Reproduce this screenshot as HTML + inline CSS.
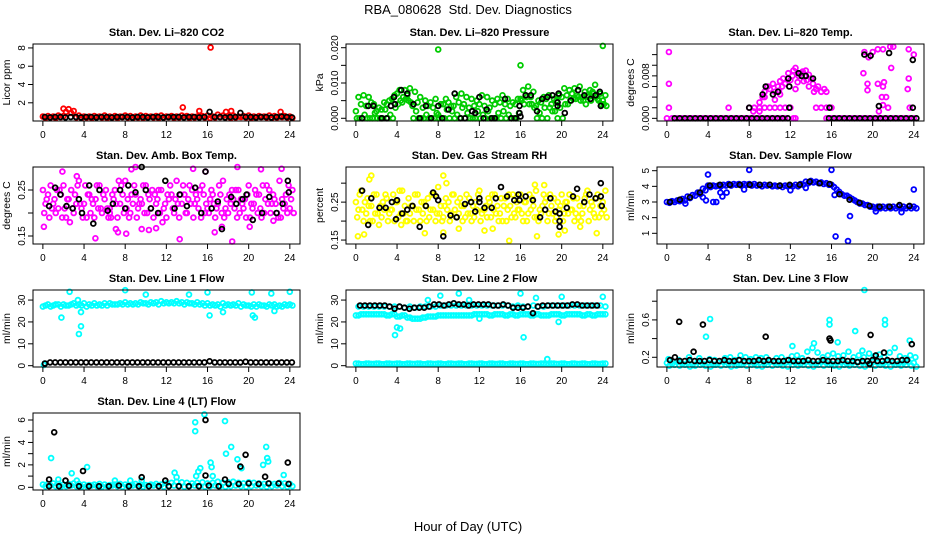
<!DOCTYPE html>
<html><head><meta charset="utf-8"><style>
body{margin:0;background:#fff;}
svg{display:block;font-family:"Liberation Sans",sans-serif;}
</style></head><body>
<svg id="fig" width="936" height="540" viewBox="0 0 936 540" xmlns="http://www.w3.org/2000/svg">
<text x="468" y="14" text-anchor="middle" font-size="13">RBA_080628&#160; Std. Dev. Diagnostics</text>
<text x="468" y="531" text-anchor="middle" font-size="13">Hour of Day (UTC)</text>
</svg>
<script>
// ---- data (hours of day, std. dev. values) ----
const xTicks=[0,4,8,12,16,20,24];
// P1 CO2
const co2A=[.5,.55,.5,.6,.55,1.3,1.1,.6,.5,.5,.55,.5,.6,.5,.55,.5,.6,.55,.5,.6,.55,.5,.55,.6,.5,.55,.5,.6,.55,.5,.5,.55,.6,.5,.7,.6,.55,.6,.5,.55,.6,.5,.55,.5,.6,.55,.5,.55,.5];
const co2B=[.35,.4,.35,.45,1.0,.9,.4,.35,.4,.35,.45,.4,.35,.4,.35,.45,.4,.35,.4,.35,.45,.4,.35,.4,.45,.35,.4,.45,.35,.4,.45,.4,.35,.4,.45,.4,.35,.4,.45,.4,.35,.4,.45,.4,.35,.4,.45,.4,.35];
const co2Out=[[2,1.35],[13.6,1.5],[15.2,1.1],[16.3,8.05],[17.8,1.0],[18.3,1.1],[23.1,1.0]];
const co2Black=[.45,.4,.45,.45,.4,.45,.45,.4,.45,.45,.4,.45,.45,.4,.45,.45,.45,.4,.45,.45,.4,.45,.45,.4,.45,.45,.45,.4,.45,.45,.4,.45,1.0,.45,.45,.4,.45,.45,.9,.45,.45,.4,.45,.45,.4,.45,.5,.45,.4];
// P2 Pressure
const presA=[.006,.0065,.006,.004,.003,.0045,.005,.0065,.008,.008,.0085,.0075,.006,.005,.0045,.0055,.004,.0055,.0035,.006,.007,.006,.0055,.005,.0065,.006,.005,.0055,.0065,.0055,.0045,.0055,.008,.009,.0075,.005,.006,.0065,.0055,.0065,.0085,.008,.0085,.009,.0075,.008,.0095,.007,.0065];
const presB=[.002,.004,.0035,.0045,.002,.0025,.004,.0055,.007,.0045,.0065,.0035,.0045,.003,.0035,.003,.001,.004,.0045,.0035,.0045,.004,.003,.0035,.004,.0035,.003,.004,.0045,.004,.0035,.004,.0055,.0065,.006,.0035,.0045,.0055,.004,.005,.006,.0065,.007,.0065,.006,.0065,.0075,.0055,.005];
const presC=[0,.001,0,.0015,0,.0025,.001,.003,.005,.0055,.0045,.002,0,.001,0,.0015,0,.0025,.002,.001,.003,.0015,0,.002,.001,.002,0,.0015,.002,.001,0,.0015,.004,.004,.003,.0015,.003,.003,.002,.003,.004,.005,.0055,.005,.004,.005,.006,.004,.0035];
const presD=[0,0,0,0,0,0,0,0,.004,.006,.005,0,0,0,0,0,0,0,0,0,0,0,0,0,0,0,0,0,0,0,0,0,.005,.006,.004,0,0,0,.002,0,0,.004,.0055,.006,.005,.006,.007,.005,.004];
const presOut=[[8,.0195],[16,.015],[24,.0205]];
const presBlack=[[0.6,0],[1.2,.0035],[1.7,.0035],[2.5,0],[3,0],[3.4,.0035],[3.7,.006],[3.8,.004],[4.4,.008],[5,.007],[5.6,.004],[6.2,0],[6.8,.0035],[7.3,0],[8,.0035],[8.4,0],[9,.0025],[9.6,.007],[10.2,0],[10.6,0],[11.3,.002],[11.6,.0015],[12,.006],[12.4,0],[12.7,.0025],[13.2,0],[13.5,0],[14.5,.0055],[15.1,0],[15.5,0],[15.9,.0035],[15.9,.0015],[16,.0005],[16.5,.0065],[17,.0065],[17.6,.002],[18.1,.0055],[18.6,.006],[19.1,.0065],[19.6,.0045],[19.6,.0035],[19.7,.007],[20.3,.0015],[20.9,.005],[21.6,.008],[22.2,.0065],[22.8,.0055],[23.3,.0065],[23.7,.0075],[23.8,.0035]];
// P3 Li-820 Temp
const tempZero=[0,0,0,0,0,0,0,0,0,0,0,0,0,0,0,0,0,0,0,0,0,0,0,0,null,0,null,null,null,null,null,0,0,0,0,0,0,0,0,0,0,0,0,0,0,0,0,0,0];
const tempMag=[[0.2,.0125],[0.2,.0065],[0.2,.002],[6,.002],[8,.002],[8.5,.002],[9,.002],[9.5,.002],[10,.002],[10.5,.002],[11,.002],[11.5,.002],[12,.002],[14.5,.002],[15,.002],[15.5,.002],[16,.002],[8.4,.0013],[9,.0013],[9,.003],[9.3,.004],[9.5,.005],[9.8,.006],[10,.0055],[10.3,.0065],[10.5,.005],[10.8,.006],[11,.007],[11.3,.0075],[11.5,.0065],[11.8,.0085],[12,.0072],[12.3,.009],[12.5,.0095],[12.8,.008],[13,.0085],[13.3,.007],[13.5,.009],[13.8,.0082],[14,.0075],[14.2,.0065],[14.5,.0055],[14.7,.006],[15,.005],[15.3,.0055],[15.5,.005],[9.5,.004],[10.5,.0035],[11,.0045],[12.5,.0055],[13.8,.006],[14.3,.005],[11.2,.006],[12.2,.008],[13.2,.0088],[12.7,.0068],[13.6,.0072],[10.9,.0052],[19.2,.0125],[19.6,.0115],[20,.0125],[20.5,.013],[21,.013],[21.7,.0135],[22,.0135],[23.5,.013],[23.5,.0075],[23.4,.0055],[21.8,.0095],[19.5,.0065],[19.5,.0053],[20.5,.0065],[21.1,.0068],[21,.006],[20.9,.004],[21.3,.004],[20.6,.0013],[21,.0025],[21.5,.002],[23.6,.002],[19.1,.0085],[24,.012],[12.3,0],[11.3,0]];
const tempBlackZero=[null,0,0,0,0,0,0,0,0,0,0,0,0,0,0,0,0,0,0,0,0,0,0,0,null,null,null,null,null,null,null,0,0,0,0,0,0,0,0,0,0,0,0,0,0,0,0,0,0];
const tempBlack=[[8,.002],[9.6,.006],[9.3,.0045],[10.3,.0045],[10.8,.005],[11.8,.0075],[11.9,.006],[11.9,.002],[12.8,.0085],[13.1,.008],[13.5,.008],[14.2,.0075],[15.8,.002],[19.2,.012],[19.8,.0118],[21.6,.0123],[20.6,.0023],[23.9,.011],[23.9,.002]];
// P4 Amb box temp
const ambA=[.25,.24,.22,.21,.26,.23,.20,.27,.22,.24,.19,.26,.23,.21,.25,.22,.27,.20,.24,.23,.26,.21,.22,.25,.19,.24,.27,.22,.20,.25,.23,.26,.21,.24,.22,.27,.20,.23,.25,.21,.26,.22,.24,.20,.25,.23,.27,.22,.21];
const ambB=[.20,.19,.23,.25,.21,.18,.24,.22,.26,.20,.23,.21,.25,.19,.22,.26,.21,.24,.19,.22,.20,.25,.23,.18,.24,.21,.22,.26,.23,.19,.21,.24,.20,.22,.26,.19,.24,.21,.20,.23,.19,.25,.21,.23,.20,.22,.19,.24,.23];
const ambC=[.22,.26,.20,.24,.19,.25,.22,.21,.19,.23,.26,.20,.21,.24,.19,.24,.23,.22,.21,.26,.24,.19,.25,.21,.23,.20,.19,.24,.26,.22,.25,.20,.23,.19,.24,.21,.22,.25,.23,.19,.22,.24,.19,.26,.22,.20,.23,.20,.25];
const ambD=[.23,.21,.25,.19,.23,.21,.26,.19,.24,.22,.21,.24,.19,.23,.27,.20,.19,.26,.22,.20,.23,.24,.20,.22,.26,.23,.24,.20,.22,.24,.19,.22,.25,.21,.20,.23,.25,.19,.22,.24,.21,.20,.26,.22,.24,.19,.21,.26,.20];
const ambOut=[[0.1,.17],[1.9,.29],[3.3,.28],[5.1,.145],[6.5,.20],[7.1,.165],[7.3,.158],[8.1,.155],[8.6,.295],[9.0,.30],[9.6,.165],[10.3,.163],[11.0,.167],[13.3,.143],[14.6,.296],[15.8,.29],[16.7,.158],[17.4,.17],[18.4,.138],[18.9,.30],[20.1,.17],[21.2,.295],[22.4,.183],[23.2,.296]];
const ambBlack=[[0.6,.215],[1.2,.255],[1.7,.24],[2.3,.215],[2.9,.21],[3.5,.23],[3.8,.20],[4.5,.26],[4.9,.177],[5.5,.25],[6.3,.205],[6.8,.22],[7.5,.25],[8.0,.21],[8.3,.26],[9.0,.245],[9.6,.30],[10.0,.25],[10.5,.21],[11.2,.20],[11.9,.27],[12.8,.21],[13.3,.24],[14.0,.215],[14.8,.255],[15.4,.20],[15.8,.29],[16.4,.21],[17.0,.225],[17.4,.165],[18.3,.235],[18.8,.22],[19.4,.23],[19.8,.24],[20.4,.185],[21.3,.20],[22.0,.235],[22.7,.20],[23.3,.22],[23.8,.27],[23.9,.245]];
// P5 Gas stream RH
const rhA=[.25,.28,.22,.24,.27,.21,.26,.23,.25,.28,.20,.24,.27,.22,.26,.23,.29,.21,.25,.27,.22,.24,.26,.21,.28,.23,.25,.27,.22,.26,.24,.21,.27,.25,.23,.28,.22,.26,.24,.21,.27,.25,.23,.26,.22,.28,.24,.27,.25];
const rhB=[.21,.23,.26,.20,.22,.25,.20,.27,.21,.22,.26,.20,.23,.25,.21,.27,.22,.24,.20,.23,.26,.21,.22,.25,.20,.24,.21,.22,.26,.20,.21,.25,.22,.20,.26,.21,.24,.20,.22,.25,.20,.22,.26,.21,.24,.20,.22,.21,.23];
const rhC=[.23,.20,.24,.27,.19,.23,.22,.20,.28,.24,.22,.27,.20,.24,.23,.20,.24,.26,.22,.21,.24,.27,.20,.23,.22,.21,.27,.24,.20,.23,.27,.23,.20,.22,.24,.20,.27,.22,.26,.23,.22,.27,.20,.24,.26,.23,.21,.24,.28];
const rhD=[.27,.25,.20,.22,.24,.27,.23,.25,.22,.20,.24,.23,.25,.20,.27,.22,.20,.23,.27,.25,.20,.22,.24,.27,.23,.26,.23,.20,.24,.27,.22,.23,.25,.27,.21,.23,.25,.27,.20,.24,.25,.23,.22,.20,.27,.25,.26,.22,.21];
const rhOut=[[0.2,.16],[1.3,.31],[1.5,.32],[0.8,.165],[8.5,.32],[8.5,.17],[8.8,.30],[14.9,.148],[17.4,.296],[17.6,.16],[18.3,.295],[19.7,.165],[20.3,.175],[21.8,.185],[23.4,.168],[12.5,.175],[13.3,.18],[10,.18],[6.7,.168],[4.4,.19]];
const rhBlack=[[0.6,.28],[1.2,.19],[1.5,.26],[2.3,.235],[2.9,.235],[3.5,.25],[3.9,.205],[4,.255],[4.5,.22],[5,.23],[5.5,.24],[6.2,.185],[6.8,.24],[7.5,.275],[7.8,.265],[8,.255],[8.5,.16],[9.2,.215],[9.8,.21],[10.6,.245],[11.2,.25],[11.6,.225],[12,.26],[12,.25],[12.5,.235],[13.2,.235],[13.6,.26],[14.1,.29],[14.7,.265],[15.4,.255],[15.8,.27],[15.9,.255],[16.5,.265],[17.2,.255],[17.9,.21],[18.4,.23],[18.9,.26],[19.4,.225],[19.8,.22],[19.8,.2],[19.8,.185],[20.5,.235],[21.1,.265],[21.5,.285],[22.2,.25],[22.7,.27],[23.3,.26],[23.8,.30],[23.8,.265],[23.9,.24]];
// P6 Sample flow
const flowA=[3.0,3.05,3.1,3.2,3.35,3.45,3.6,3.85,4.05,4.05,4.05,4.1,4.15,4.15,4.15,4.15,4.15,4.15,4.1,4.1,4.1,4.05,4.05,4.05,4.05,4.1,4.15,4.3,4.35,4.3,4.25,4.2,4.1,3.8,3.5,3.4,3.2,3.0,2.9,2.8,2.7,2.7,2.7,2.7,2.7,2.7,2.7,2.7,2.7];
const flowB=[2.95,3.0,3.05,3.1,3.25,3.4,3.5,3.75,3.95,4.0,4.0,4.05,4.05,4.1,4.05,4.1,4.05,4.05,4.0,4.05,4.0,4.0,3.95,4.0,4.0,4.0,4.1,4.2,4.25,4.2,4.15,4.1,3.95,3.65,3.4,3.3,3.1,2.9,2.8,2.7,2.6,2.6,2.6,2.6,2.6,2.6,2.6,2.6,2.6];
const flowOut=[[4,4.75],[8,5.05],[16,5.05],[16.4,0.8],[17.6,0.5],[17.8,2.1],[24,3.8],[1.8,2.9],[3.8,3.1],[3.5,3.3],[4.5,3.0],[4.8,3.0],[5.4,3.35],[5.2,3.6],[5.8,3.6],[20.3,2.4],[22.8,2.35],[7.5,3.8],[12,3.75],[13.5,3.9],[16.3,3.45]];
const flowBlack=[3.0,3.15,3.3,3.6,4.05,4.1,4.1,4.1,4.1,4.1,4.1,4.05,4.1,4.1,4.3,4.2,4.15,3.5,3.15,2.95,2.75,2.7,2.7,2.8,2.75];
// P7 Line 1 flow
const l1A=[27,28,27.5,28,28,27.5,28.5,28,28.5,28,28.5,28,28.5,28.5,28,28.5,29,28.5,28.5,29,28.5,29,29,29.5,29,29,29.5,29,29,28.5,29,28.5,28.5,28,28,28.5,28,28,28.5,28,27.5,28,28,27.5,28,28,27.5,28,28];
const l1B=[27.5,27,28,27,27.5,28,27.5,27.5,27,27.5,27.5,27.5,27.5,28,28,28,28,28,28,28.5,28,28.5,28,28.5,28.5,28.5,28.5,28,28.5,28,28,27.5,27.5,27.5,27,27.5,27.5,27.5,27,27.5,27,27,27.5,27,27.5,27,27,27.5,27.5];
const l1Out=[[1.8,22],[2.6,33.8],[3.5,14.5],[3.7,18],[3.7,24.5],[3.4,30],[8,34.5],[14.2,32.5],[20.3,33.5],[22.2,33],[24,33.8],[20.4,23],[20.6,22],[22.5,25],[10,32.5],[16,33.5],[16.2,23],[17.5,24.5],[0.1,0.3],[0.2,1]];
const l1Black=[1,1.5,1.5,1.5,1.5,1.5,1.5,1.5,1.5,1.5,1.5,1.5,1.5,1.5,1.5,1.5,1.5,1.5,1.5,1.5,1.5,1.5,1.5,1.5,1.5,1.5,1.5,1.5,1.5,1.5,1.5,1.5,2,1.5,1.5,1.5,1.5,1.5,1.5,1.8,1.5,1.5,1.5,1.5,1.5,1.5,1.5,1.5,1.5];
// P8 Line 2 flow
const l2Up=[27,27,27,27,27,27,27,27,27,26.5,27,26.5,27,27,27,27,27.5,27.5,27.5,27.5,27.5,27.5,27.5,27.5,27.5,27.5,27.5,27.5,27.5,27.5,27,27.5,27,27,27.5,27,27,27.5,27.5,27.5,27.5,27.5,27.5,27.5,27.5,27.5,27.5,27.5,27];
const l2Mid=[23,23.5,23.5,23.5,23.5,23.5,23,23.5,22.5,23,22,21.5,21.5,22,22.5,22.5,23,23,23,23,23,23,23,23.5,23.5,23.5,23,23.5,23.5,23,23.5,23,23.5,23.5,23,23.5,23,23,23.5,23.5,23,23.5,23.5,23.5,23,23.5,23,23.5,23.5];
const l2Low=[1,0.7,1,0.8,1,0.7,1,0.8,1,0.7,1,0.8,1,0.7,1,0.8,1,0.7,1,0.8,1,0.7,1,0.8,1,0.7,1,0.8,1,0.7,1,0.8,1,0.7,1,0.8,1,0.7,1,0.8,1,0.7,1,0.8,1,0.7,1,0.8,1];
const l2Out=[[3.8,14],[4,17.5],[4.3,17],[8.2,32],[10,33],[16,33],[16.3,13],[17.5,31],[19.7,20],[20,31.5],[24,31.5],[18.6,3],[11,30],[7,30],[12,21.5]];
const l2Black=[27.5,27.5,27.5,27.5,27.5,27.5,27,26,27,26.5,26,26.5,26.5,26.5,27,28,28,27.5,28,28.5,28,28,27.5,28,28,28,28,27.5,27.5,28,27.5,26.5,26.5,26.5,27,24,27,27.5,27.5,27.5,27.5,27.5,27.5,28,28,27.5,27.5,27.5,27.5];
// P9 Line 3 flow
const l3A=[.14,.13,.15,.13,.14,.12,.15,.13,.14,.12,.14,.15,.13,.14,.12,.14,.15,.13,.14,.13,.15,.14,.13,.14,.15,.14,.13,.15,.14,.13,.15,.14,.13,.14,.15,.13,.14,.15,.14,.13,.15,.14,.13,.15,.14,.13,.14,.15,.14];
const l3B=[.11,.12,.11,.12,.1,.11,.12,.11,.1,.12,.11,.12,.1,.11,.12,.11,.12,.11,.1,.12,.11,.12,.11,.1,.12,.11,.12,.11,.1,.12,.11,.12,.11,.1,.12,.11,.12,.11,.1,.12,.11,.12,.11,.1,.12,.11,.12,.11,.1];
const l3C=[.18,null,.17,null,.2,null,.19,null,.18,.17,null,.19,.2,.17,.22,.2,.18,.2,.19,.2,null,.19,.2,.17,.21,.22,.19,.26,.3,.25,.2,.22,.24,.21,.22,.26,.2,.22,.2,.24,.21,.23,.2,.25,.3,.21,.19,.22,.2];
const l3Out=[[3.8,.42],[4.2,.61],[19.2,.92],[15.8,.6],[15.8,.55],[21.2,.6],[21.2,.55],[18.3,.48],[12.2,.32],[14.3,.35],[16.6,.36],[23.6,.38],[19,.27]];
const l3Black=[.17,.2,.16,.16,.17,.16,.16,.16,.17,.16,.16,.17,.16,.16,.17,.16,.16,.16,.17,.16,.17,.16,.16,.16,.17,.16,.16,.16,.17,.16,.16,.17,.16,.16,.16,.17,.16,.16,.15,.16,.16,.17,.16,.16,.17,.16,.16,.17,.17];
const l3BlackOut=[[1.2,.58],[3.5,.55],[2.6,.26],[9.6,.42],[15.8,.4],[15.9,.38],[19.8,.44],[20.3,.22],[21.1,.25],[23.8,.34],[19.7,.13]];
// P10 Line 4 (LT) flow
const l4A=[.25,.3,.35,.3,.25,.3,.35,.3,.25,.2,.25,.3,.25,.2,.25,.3,.25,.2,.3,.25,.2,.25,.3,.25,.35,.4,.5,.45,.4,.35,.4,.45,.35,.4,.5,.4,.45,.5,.4,.35,.45,.4,.35,.3,.35,.3,.4,.35,.3];
const l4B=[.1,.15,.1,.05,.1,.15,.1,.05,.1,.15,.1,.05,.1,.15,.1,.05,.1,.15,.1,.05,.1,.15,.1,.05,.1,.15,.1,.05,.1,.15,.1,.05,.1,.15,.1,.05,.1,.15,.1,.05,.1,.15,.1,.05,.1,.15,.1,.05,.1];
const l4Out=[[0.8,2.6],[2.8,1.25],[4.3,1.8],[14.8,5.8],[14.8,5.0],[15.7,6.5],[15.3,1.7],[16.3,2.2],[16.4,1.8],[17.7,5.9],[17.8,3.0],[18.3,3.6],[18.9,2.5],[19.3,1.7],[21.4,2.0],[21.7,3.6],[21.8,2.6],[21.9,2.3],[23.4,1.1],[12.8,1.3],[15.1,1.4],[9.6,0.6],[8.5,0.6],[7,0.6],[1.5,0.7],[3.3,0.6],[16.5,1.0],[14.9,1.0],[13,0.9]];
const l4Black=[.1,.1,.15,.1,.1,.1,.1,.15,.1,.1,.1,.1,.1,.1,.1,.1,.15,.1,.3,.3,.35,.3,.35,.35,.3];
const l4BlackOut=[[0.6,0.7],[1.1,4.9],[2.2,0.6],[3.9,1.45],[9.6,0.9],[11.9,0.6],[15.8,6.0],[15.8,1.05],[17.7,0.7],[19.2,1.85],[19.7,2.9],[21.6,0.95],[23.8,2.2]];

// ---- layout ----
const colLeft=[33,346,657], rowTop=[44,167,290,413], BW=267, BH=77, PXH=10.29;
const panels=[
 {id:'co2',title:'Stan. Dev. Li\u2013820 CO2',ylab:'Licor ppm',c:0,r:0,lo:0.01,hi:8.43,ticks:[0,2,4,6,8],labels:[2,4,6,8],fmt:v=>String(v),col:'#ff0000',
  ser:[{v:co2B,t0:0.25},{v:co2A,t0:0},{p:co2Out}],blk:[{v:co2Black,t0:0.2}]},
 {id:'pressure',title:'Stan. Dev. Li\u2013820 Pressure',ylab:'kPa',c:1,r:0,lo:-0.00077,hi:0.02105,ticks:[0,.005,.01,.015,.02],labels:[0,.01,.02],fmt:v=>v.toFixed(3),col:'#00cc00',
  ser:[{v:presD,t0:0.1},{v:presC,t0:0.35},{v:presB,t0:0},{v:presA,t0:0.25},{p:presOut}],blk:[{p:presBlack}]},
 {id:'li820-temp',title:'Stan. Dev. Li\u2013820 Temp.',ylab:'degrees C',c:2,r:0,lo:-0.0005,hi:0.014,ticks:[0,.002,.004,.006,.008,.01,.012],labels:[0,.008],fmt:v=>v.toFixed(3),col:'#ff00ff',
  ser:[{v:tempZero,t0:0},{p:tempMag}],blk:[{v:tempBlackZero,t0:0.25},{p:tempBlack}]},
 {id:'amb-box-temp',title:'Stan. Dev. Amb. Box Temp.',ylab:'degrees C',c:0,r:1,lo:0.1326,hi:0.30,ticks:[.15,.2,.25],labels:[.15,.25],fmt:v=>v.toFixed(2),col:'#ff00ff',
  ser:[{v:ambA,t0:0},{v:ambB,t0:0.125},{v:ambC,t0:0.25},{v:ambD,t0:0.375},{p:ambOut}],blk:[{p:ambBlack}]},
 {id:'gas-stream-rh',title:'Stan. Dev. Gas Stream RH',ylab:'percent',c:1,r:1,lo:0.1396,hi:0.3426,ticks:[.15,.2,.25,.3],labels:[.15,.25],fmt:v=>v.toFixed(2),col:'#ffff00',
  ser:[{v:rhA,t0:0},{v:rhB,t0:0.125},{v:rhC,t0:0.25},{v:rhD,t0:0.375},{p:rhOut}],blk:[{p:rhBlack}]},
 {id:'sample-flow',title:'Stan. Dev. Sample Flow',ylab:'ml/min',c:2,r:1,lo:0.317,hi:5.236,ticks:[1,2,3,4,5],labels:[1,2,3,4,5],fmt:v=>String(v),col:'#0000ff',
  ser:[{v:flowB,t0:0.25},{v:flowA,t0:0},{p:flowOut}],blk:[{v:flowBlack,t0:0.3,dt:0.97}]},
 {id:'line1-flow',title:'Stan. Dev. Line 1 Flow',ylab:'ml/min',c:0,r:2,lo:-0.6,hi:34.6,ticks:[0,10,20,30],labels:[0,10,20,30],fmt:v=>String(v),col:'#00ffff',
  ser:[{v:l1B,t0:0.25},{v:l1A,t0:0},{p:l1Out}],blk:[{v:l1Black,t0:0.2}]},
 {id:'line2-flow',title:'Stan. Dev. Line 2 Flow',ylab:'ml/min',c:1,r:2,lo:-0.6,hi:34.6,ticks:[0,10,20,30],labels:[0,10,20,30],fmt:v=>String(v),col:'#00ffff',
  ser:[{v:l2Up,t0:0.25},{v:l2Mid,t0:0},{v:l2Mid,t0:0.25},{v:l2Low,t0:0},{v:l2Low,t0:0.25},{p:l2Out}],blk:[{v:l2Black,t0:0.4,dt:0.48}]},
 {id:'line3-flow',title:'Stan. Dev. Line 3 Flow',ylab:'ml/min',c:2,r:2,lo:0.096,hi:0.92,ticks:[.2,.4,.6,.8],labels:[.2,.6],fmt:v=>String(v),col:'#00ffff',
  ser:[{v:l3B,t0:0.25},{v:l3A,t0:0},{v:l3C,t0:0.15},{p:l3Out}],blk:[{v:l3Black,t0:0.3,dt:0.48},{p:l3BlackOut}]},
 {id:'line4-flow',title:'Stan. Dev. Line 4 (LT) Flow',ylab:'ml/min',c:0,r:3,lo:-0.24,hi:6.625,ticks:[0,1,2,3,4,5,6],labels:[0,2,4,6],fmt:v=>String(v),col:'#00ffff',
  ser:[{v:l4B,t0:0.25},{v:l4A,t0:0},{p:l4Out}],blk:[{v:l4Black,t0:0.6,dt:0.97},{p:l4BlackOut}]}
];
const NS='http://www.w3.org/2000/svg';
const svg=document.getElementById('fig');
function mk(tag,attrs,parent){const e=document.createElementNS(NS,tag);for(const k in attrs)e.setAttribute(k,attrs[k]);parent.appendChild(e);return e;}
panels.forEach(P=>{
  const L=colLeft[P.c], T=rowTop[P.r], B=T+BH;
  const xs=t=>L+(t+0.96)*PXH;
  const ys=v=>B-(v-P.lo)/(P.hi-P.lo)*BH;
  const g=mk('g',{},svg);
  
  
  const tt=mk('text',{x:L+BW/2,y:T-8,'text-anchor':'middle','font-size':11,'font-weight':'bold'},g);
  tt.textContent=P.title;
  
  
  const yl=mk('text',{x:L-23,y:T+BH/2,'text-anchor':'middle','font-size':10.5,transform:`rotate(-90 ${L-23} ${T+BH/2})`},g);
  yl.textContent=P.ylab;
  
  
  const pts=mk('g',{fill:'none','stroke-width':1.8},g);
  
  
  const draw=(list,color)=>list.forEach(s=>{
    const arr=s.p?s.p:s.v.map((v,i)=>[s.t0+i*(s.dt||0.5),v]);
    arr.forEach(([t,v])=>{
      if(v===null||v<P.lo||v>P.hi) return;
      const c=mk('circle',{cx:xs(t).toFixed(1),cy:ys(v).toFixed(1),r:2.4,stroke:color},pts);
      
      
    });
  });
  draw(P.ser,P.col);
  draw(P.blk,'#000');
  const bx=mk('rect',{x:L,y:T,width:BW,height:BH,fill:'none',stroke:'#000','stroke-width':1},g);
  
  
  const xa=mk('g',{},g);
  
  
  xTicks.forEach(t=>{
    mk('line',{x1:xs(t),x2:xs(t),y1:B,y2:B+5,stroke:'#000'},xa);
    const lt=mk('text',{x:xs(t),y:B+17,'text-anchor':'middle','font-size':10},xa);
    lt.textContent=t;
  });
  const ya=mk('g',{},g);
  
  
  P.ticks.forEach(v=>{
    if(v<P.lo||v>P.hi) return;
    mk('line',{x1:L-5,x2:L,y1:ys(v),y2:ys(v),stroke:'#000'},ya);
  });
  P.labels.forEach(v=>{
    if(v<P.lo||v>P.hi) return;
    const x=L-8,y=ys(v);
    const lt=mk('text',{x:x,y:y,'text-anchor':'middle','font-size':10,transform:`rotate(-90 ${x} ${y})`},ya);
    lt.textContent=P.fmt(v);
  });
});
</script>
</body></html>
